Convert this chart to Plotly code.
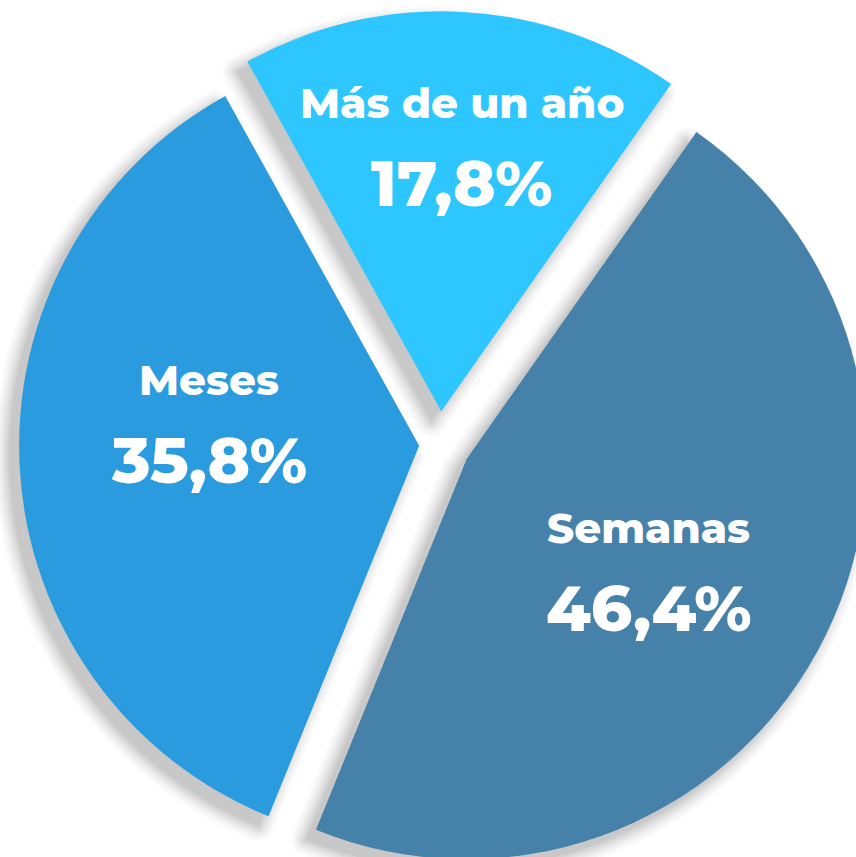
import math
import plotly.graph_objects as go

# data
labels = ["Más de un año", "Semanas", "Meses"]
values = [17.8, 46.4, 35.8]
pct_text = ["17,8%", "46,4%", "35,8%"]

# styling
colors = ["#2DC6FE", "#4581A9", "#2A9BDF"]
pulls = [0.083, 0.077, 0.051]
text_rho = [0.674, 0.53, 0.528]     # distance of text block from slice centre (fraction of radius)
text_turn = [1.4, 2.2, 10.4]        # small angular nudge of the text block (degrees)
font_family = "Montserrat, Open Sans, sans-serif"

# the figure is bigger than the window and shifted left a little,
# so the pie bleeds off the edges like in the original
SHIFT = 20
W, H = 900, 890
cx, cy = 439.5 + SHIFT, 444.5    # pie centre in pixels
R = 400
rotation = -29.0
half = R * (1 + max(pulls))

shadow_dx, shadow_dy = -10, 10
shadow_spread = 18


def domain(dx=0, dy=0):
    return dict(x=[(cx + dx - half) / W, (cx + dx + half) / W],
                y=[1 - (cy + dy + half) / H, 1 - (cy + dy - half) / H])


def polar(angle, dist):
    a = math.radians(angle)
    return dist * math.sin(a), -dist * math.cos(a)


fig = go.Figure()

# soft drop shadow: opaque grey copies, widest/lightest first, darkest last
for e in range(shadow_spread, -1, -2):
    g = round(255 - 55 * (1 - e / shadow_spread) ** 1.5)
    grey = f"rgb({g},{g},{g})"
    fig.add_trace(go.Pie(values=values, labels=labels, sort=False,
                         direction="clockwise", rotation=rotation, pull=pulls,
                         domain=domain(shadow_dx, shadow_dy),
                         marker=dict(colors=[grey] * 3,
                                     line=dict(color=grey, width=2 * e)),
                         textinfo="none", hoverinfo="skip", showlegend=False))

# the pie itself
fig.add_trace(go.Pie(values=values, labels=labels, sort=False,
                     direction="clockwise", rotation=rotation, pull=pulls,
                     domain=domain(),
                     marker=dict(colors=colors, line=dict(width=0)),
                     textinfo="none", showlegend=False,
                     hovertemplate="%{label}: %{value}%<extra></extra>"))

# labels inside the slices
total = sum(values)
start = rotation
for lab, val, pct, p, rho, turn in zip(labels, values, pct_text, pulls, text_rho, text_turn):
    span = 360 * val / total
    mid = start + span / 2
    start += span
    ox, oy = polar(mid, p * R)
    tx, ty = polar(mid + turn, rho * R)
    bx, by = cx + ox + tx, cy + oy + ty
    fig.add_annotation(x=bx / W, y=1 - (by - 40) / H, xref="paper", yref="paper",
                       text=lab, showarrow=False, xanchor="center", yanchor="middle",
                       font=dict(family=font_family, size=42, color="white", weight=800))
    fig.add_annotation(x=bx / W, y=1 - (by + 40) / H, xref="paper", yref="paper",
                       text=pct, showarrow=False, xanchor="center", yanchor="middle",
                       font=dict(family=font_family, size=64, color="white", weight=800))

fig.update_layout(width=W, height=H,
                  margin=dict(l=0, r=0, t=0, b=0),
                  paper_bgcolor="white", plot_bgcolor="white",
                  showlegend=False)

fig.write_html("out.html", config={"displayModeBar": False},
               post_script=("document.body.style.margin='0 0 0 -%dpx';"
                            "document.body.style.overflow='hidden';" % SHIFT))
